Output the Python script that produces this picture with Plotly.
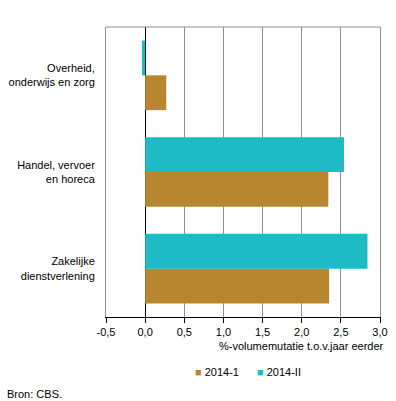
import plotly.graph_objects as go

categories = ["Zakelijke<br>dienstverlening", "Handel, vervoer<br>en horeca", "Overheid,<br>onderwijs en zorg"]
series_names = ["2014-1", "2014-II"]
values_2014_1 = [2.35, 2.34, 0.27]
values_2014_2 = [2.84, 2.54, -0.04]
x_tick_vals = [-0.5, 0.0, 0.5, 1.0, 1.5, 2.0, 2.5, 3.0]
x_tick_text = ["-0,5", "0,0", "0,5", "1,0", "1,5", "2,0", "2,5", "3,0"]
axis_title = "%-volumemutatie t.o.v.jaar eerder"
source_text = "Bron: CBS."

BROWN = "#B98630"
TEAL = "#1EBAC6"
GRID = "#8f8f8f"
FONT = "Liberation Sans, Arial, sans-serif"
colors = [BROWN, TEAL]

fig = go.Figure()
fig.add_trace(go.Bar(y=categories, x=values_2014_1, name=series_names[0], orientation="h",
                     marker=dict(color=colors[0], line=dict(width=0))))
fig.add_trace(go.Bar(y=categories, x=values_2014_2, name=series_names[1], orientation="h",
                     marker=dict(color=colors[1], line=dict(width=0))))

legend_x = [0.3175, 0.544]
legend_annotations = [
    dict(text=f"<span style='color:{c}'>■</span> {n}", xref="paper", yref="paper",
         x=lx, y=-0.19, xanchor="left", yanchor="middle", showarrow=False,
         font=dict(size=11))
    for c, n, lx in zip(colors, series_names, legend_x)
]

fig.update_layout(
    template="none",
    width=396, height=401,
    margin=dict(l=106, r=16, t=27, b=84, pad=0),
    paper_bgcolor="white", plot_bgcolor="white",
    font=dict(family=FONT, size=11, color="black"),
    barmode="group", bargap=0.28, bargroupgap=0,
    showlegend=False,
    xaxis=dict(range=[-0.5, 3.0], tickvals=x_tick_vals, ticktext=x_tick_text,
               showgrid=True, gridcolor=GRID, gridwidth=1,
               zeroline=True, zerolinecolor="black", zerolinewidth=1,
               showline=True, linecolor="black", linewidth=1,
               ticks="outside", ticklen=5, tickcolor="black", tickwidth=1,
               fixedrange=True),
    yaxis=dict(showgrid=False, zeroline=False, showline=True, linecolor=GRID, linewidth=1,
               mirror=True, ticks="", ticklabelstandoff=8, fixedrange=True),
    shapes=[dict(type="line", xref="paper", yref="paper", x0=0, x1=1, y0=1, y1=1,
                 line=dict(color=GRID, width=1))],
    annotations=[
        dict(text=axis_title, xref="paper", yref="paper", x=1.022, y=-0.1,
             xanchor="right", yanchor="middle", showarrow=False, font=dict(size=11)),
        dict(text=source_text, xref="paper", yref="paper", x=-0.369, y=-0.266,
             xanchor="left", yanchor="middle", showarrow=False, font=dict(size=11)),
    ] + legend_annotations,
)

fig.write_html("out.html", config={"displayModeBar": False},
               post_script="document.body.style.margin='0';document.body.style.overflow='hidden';")
